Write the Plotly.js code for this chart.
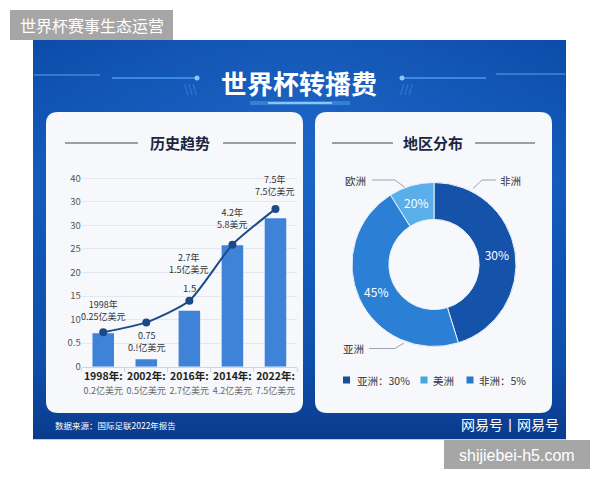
<!DOCTYPE html>
<html><head><meta charset="utf-8">
<script src="https://cdn.plot.ly/plotly-3.0.1.min.js"></script>
<style>html,body{margin:0;padding:0;background:#fff}#c{width:600px;height:480px}</style>
</head><body><div id="c"></div>
<script>
// ---- data ----
const years = ['1998年:', '2002年:', '2016年:', '2014年:', '2022年:'];
const feeLabels = ['0.2亿美元', '0.5亿美元', '2.7亿美元', '4.2亿美元', '7.5亿美元'];
const barValues = [7.1, 1.6, 11.9, 25.8, 31.5];
const lineValues = [7.3, 9.4, 14.0, 25.9, 33.5];
const pointNotes = ['1998年<br>0.25亿美元', '0.75<br>0.!亿美元', '2.7年<br>1.5亿美元', '4.2年<br>5.8美元', '7.5年<br>7.5亿美元'];
const extraNote = '1.5';
const yTickVals = [0, 5, 10, 15, 20, 25, 30, 35, 40];
const yTickText = ['0', '0.5', '10', '15', '20', '25', '30', '30', '40'];
const regions = ['非洲', '亚洲', '欧洲'];
const regionShares = [45.2, 45.9, 8.9];
const regionText = ['30%', '45%', '20%'];
const legendItems = ['亚洲：30%', '美洲', '非洲：5%'];

// ---- helpers (pixel -> paper) ----
const W = 600, H = 480;
const X = p => p / W;
const Y = p => 1 - p / H;
const FONT = 'Noto Sans CJK SC, Noto Sans, sans-serif';

function rr(x0, y0, x1, y1, r) {
  const a = (x, y) => X(x).toFixed(5) + ',' + Y(y).toFixed(5);
  return 'M' + a(x0 + r, y0) + ' L' + a(x1 - r, y0) + ' Q' + a(x1, y0) + ' ' + a(x1, y0 + r) +
    ' L' + a(x1, y1 - r) + ' Q' + a(x1, y1) + ' ' + a(x1 - r, y1) +
    ' L' + a(x0 + r, y1) + ' Q' + a(x0, y1) + ' ' + a(x0, y1 - r) +
    ' L' + a(x0, y0 + r) + ' Q' + a(x0, y0) + ' ' + a(x0 + r, y0) + ' Z';
}
function pline(pts) {
  return pts.map((p, i) => (i ? 'L' : 'M') + X(p[0]).toFixed(5) + ',' + Y(p[1]).toFixed(5)).join(' ');
}
function seg(x0, y0, x1, y1, color, width, layer) {
  return {type: 'line', xref: 'paper', yref: 'paper', x0: X(x0), y0: Y(y0), x1: X(x1), y1: Y(y1),
    line: {color: color, width: width}, layer: layer || 'above'};
}
function rect(x0, y0, x1, y1, fill, layer) {
  return {type: 'rect', xref: 'paper', yref: 'paper', x0: X(x0), y0: Y(y0), x1: X(x1), y1: Y(y1),
    fillcolor: fill, line: {width: 0}, layer: layer || 'below'};
}
function txt(x, y, text, size, color, extra) {
  return Object.assign({xref: 'paper', yref: 'paper', x: X(x), y: Y(y), text: text, showarrow: false,
    font: {family: FONT, size: size, color: color}, xanchor: 'center', yanchor: 'middle'}, extra || {});
}

// ---- background image (panel gradient) ----
const svgBg = "<svg xmlns='http://www.w3.org/2000/svg' width='533' height='400'>" +
  "<defs><linearGradient id='g' x1='0' y1='0' x2='0' y2='1'>" +
  "<stop offset='0' stop-color='#0b49a6'/><stop offset='0.35' stop-color='#1159bb'/>" +
  "<stop offset='0.8' stop-color='#0e4fac'/><stop offset='1' stop-color='#0a3b8c'/></linearGradient>" +
  "<radialGradient id='r' cx='0.5' cy='0.2' r='0.6'><stop offset='0' stop-color='#2a78d8' stop-opacity='0.45'/>" +
  "<stop offset='1' stop-color='#2a78d8' stop-opacity='0'/></radialGradient></defs>" +
  "<rect width='533' height='400' fill='url(#g)'/><rect width='533' height='400' fill='url(#r)'/></svg>";
const bgSrc = 'data:image/svg+xml;charset=utf-8,' + encodeURIComponent(svgBg);

// ---- traces ----
const xTickText = years.map((y, i) => '<b>' + y + '</b><br><span style="font-size:9px;color:#666">' + feeLabels[i] + '</span>');

const traces = [
  {type: 'bar', x: years, y: barValues, width: 0.5, xaxis: 'x', yaxis: 'y',
   marker: {color: '#3f83d8', line: {width: 0}}, hoverinfo: 'skip'},
  {type: 'scatter', mode: 'lines+markers', x: years, y: lineValues, xaxis: 'x', yaxis: 'y',
   line: {color: '#1b4a8a', width: 2, shape: 'spline', smoothing: 0.6},
   marker: {color: '#1b4a8a', size: 8}, hoverinfo: 'skip'},
  {type: 'pie', labels: regions, values: regionShares, text: regionText, textinfo: 'text',
   textposition: 'inside', insidetextorientation: 'horizontal', sort: false, direction: 'clockwise',
   rotation: 0, hole: 0.55,
   domain: {x: [X(352), X(516)], y: [Y(346.5), Y(182.5)]},
   marker: {colors: ['#1552a9', '#2b80d5', '#5aaeea'], line: {color: '#e8f1fb', width: 1}},
   textfont: {family: FONT, size: 12, color: '#ffffff'}, hoverinfo: 'skip'}
];

// ---- shapes ----
const shapes = [
  rect(10, 10, 173, 40, '#a6a6a6'),
  rect(444, 440, 590, 469, '#a6a6a6'),
  {type: 'path', xref: 'paper', yref: 'paper', path: rr(46, 112, 303, 413, 12), fillcolor: '#f6f8fc', line: {width: 0}, layer: 'below'},
  {type: 'path', xref: 'paper', yref: 'paper', path: rr(315, 112, 552, 413, 12), fillcolor: '#f6f8fc', line: {width: 0}, layer: 'below'},
  // subtitle rules
  seg(65, 143, 138, 143, '#7b8089', 1.5), seg(223, 143, 296, 143, '#7b8089', 1.5),
  seg(332, 143, 393, 143, '#7b8089', 1.5), seg(475, 143, 535, 143, '#7b8089', 1.5),
  // title decorations
  seg(34, 75, 100, 75, 'rgba(120,175,240,0.55)', 1.5), seg(112, 78, 195, 78, '#4d98ee', 1.5),
  seg(404, 78, 486, 78, '#4d98ee', 1.5), seg(496, 74, 565, 74, 'rgba(120,175,240,0.55)', 1.5),
  {type: 'circle', xref: 'paper', yref: 'paper', x0: X(194.5), x1: X(199.5), y0: Y(80.5), y1: Y(75.5), fillcolor: '#8cc4ff', line: {width: 0}},
  {type: 'circle', xref: 'paper', yref: 'paper', x0: X(399.5), x1: X(404.5), y0: Y(80.5), y1: Y(75.5), fillcolor: '#8cc4ff', line: {width: 0}},
  seg(250, 103, 350, 103, 'rgba(110,190,255,0.35)', 4), seg(268, 103, 332, 103, '#a6dcff', 1.5),
  // pie leader lines
  {type: 'path', xref: 'paper', yref: 'paper', path: pline([[372, 180], [395, 180], [405, 187.5]]), line: {color: '#9aa3ad', width: 1}},
  {type: 'path', xref: 'paper', yref: 'paper', path: pline([[496, 180], [482, 180], [473, 188.5]]), line: {color: '#9aa3ad', width: 1}},
  {type: 'path', xref: 'paper', yref: 'paper', path: pline([[369, 348.5], [395, 348.5], [404, 343]]), line: {color: '#9aa3ad', width: 1}},
  // legend squares
  rect(343, 376.5, 350, 383.5, '#174d9c', 'above'),
  rect(420.5, 376.5, 427.5, 383.5, '#45a6e0', 'above'),
  rect(466.5, 376.5, 473.5, 383.5, '#2c79cc', 'above')
];

// ---- annotations ----
const noteShift = [22, -19, 37, 26.5, 23.5];
const annotations = [
  txt(91.5, 25.5, '世界杯赛事生态运营', 16, '#ffffff'),
  txt(299, 82, '<b>世界杯转播费</b>', 26, '#ffffff'),
  txt(191, 88, '\\\\\\', 11, '#3f86e0'),
  txt(407, 88, '///', 11, '#3f86e0'),
  txt(180, 143, '<b>历史趋势</b>', 15, '#1b2540'),
  txt(433, 143, '<b>地区分布</b>', 15, '#1b2540'),
  txt(355, 180, '欧洲', 10.5, '#333'),
  txt(510, 180, '非洲', 10.5, '#333'),
  txt(353, 348, '亚洲', 10.5, '#333'),
  txt(355, 380, legendItems[0], 10.5, '#333', {xanchor: 'left'}),
  txt(430.5, 380, legendItems[1], 10.5, '#333', {xanchor: 'left'}),
  txt(476.5, 380, legendItems[2], 10.5, '#333', {xanchor: 'left'}),
  txt(53, 425, '数据来源：国际足联2022年报告', 8.5, '#ffffff', {xanchor: 'left'}),
  txt(510, 424, '网易号丨网易号', 14, '#ffffff'),
  txt(517, 455, 'shijiebei-h5.com', 16, '#ffffff', {font: {family: 'Liberation Sans, Arial, sans-serif', size: 16, color: '#ffffff'}})
];
pointNotes.forEach((n, i) => {
  annotations.push({xref: 'x', yref: 'y', x: years[i], y: lineValues[i], text: n, showarrow: false,
    yshift: noteShift[i], yanchor: 'middle', font: {family: FONT, size: 9, color: '#333'}});
});
annotations.push({xref: 'x', yref: 'y', x: years[2], y: lineValues[2], text: extraNote, showarrow: false,
  yshift: 12.5, yanchor: 'middle', font: {family: FONT, size: 9.5, color: '#333'}});

const layout = {
  width: W, height: H, margin: {l: 0, r: 0, t: 0, b: 0, pad: 0},
  paper_bgcolor: '#ffffff', plot_bgcolor: 'rgba(0,0,0,0)', showlegend: false,
  font: {family: FONT},
  xaxis: {domain: [X(81.7), X(297)], type: 'category', range: [-0.5, 4.5], tickmode: 'array',
    tickvals: years, ticktext: xTickText, tickson: 'boundaries', ticks: 'outside', ticklen: 4,
    tickangle: 0, automargin: false,
    tickcolor: '#cfd5de', showgrid: false, showline: true, linecolor: '#cfd5de', zeroline: false,
    tickfont: {family: FONT, size: 10.5, color: '#222'}, fixedrange: true},
  yaxis: {domain: [Y(366.7), Y(175.9)], range: [0, 40.5], tickmode: 'array', tickvals: yTickVals,
    ticktext: yTickText, showgrid: true, gridcolor: '#e4e8ee', zeroline: false, showline: false,
    automargin: false,
    tickfont: {family: FONT, size: 9.5, color: '#555'}, fixedrange: true},
  images: [{source: bgSrc, xref: 'paper', yref: 'paper', x: X(33), y: Y(40), sizex: X(566) - X(33),
    sizey: Y(40) - Y(439.5), sizing: 'stretch', xanchor: 'left', yanchor: 'top', layer: 'below'}],
  shapes: shapes,
  annotations: annotations
};

Plotly.newPlot('c', traces, layout, {staticPlot: true, displayModeBar: false});
</script>
</body></html>
